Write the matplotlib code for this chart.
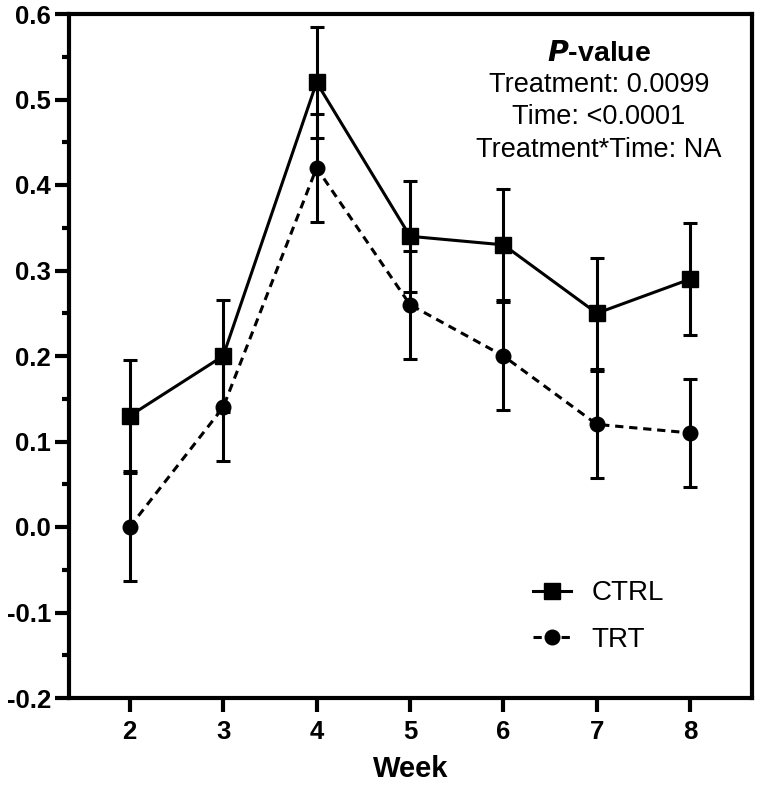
import matplotlib
matplotlib.use("Agg")
import matplotlib.pyplot as plt
import numpy as np

weeks = [2, 3, 4, 5, 6, 7, 8]
ctrl_mean = [0.13, 0.20, 0.52, 0.34, 0.33, 0.25, 0.29]
ctrl_err = [0.065, 0.065, 0.065, 0.065, 0.065, 0.065, 0.065]
trt_mean = [0.00, 0.14, 0.42, 0.26, 0.20, 0.12, 0.11]
trt_err = [0.063, 0.063, 0.063, 0.063, 0.063, 0.063, 0.063]
yticks = [-0.2, -0.1, 0.0, 0.1, 0.2, 0.3, 0.4, 0.5, 0.6]
stat_lines = ['Treatment: 0.0099', 'Time: <0.0001', 'Treatment*Time: NA']

plt.rcParams['font.family'] = ['Liberation Sans', 'DejaVu Sans']

fig = plt.figure(figsize=(7.6, 7.88), dpi=100)
ax = fig.add_axes([69/760, 1-698/788, 683/760, 684/788])

lw = 2.2
ax.errorbar(weeks, ctrl_mean, yerr=ctrl_err, fmt='none', ecolor='black',
            elinewidth=lw, capsize=5, capthick=lw, zorder=2)
ax.errorbar(weeks, trt_mean, yerr=trt_err, fmt='none', ecolor='black',
            elinewidth=lw, capsize=5, capthick=lw, zorder=2)
l1, = ax.plot(weeks, ctrl_mean, color='black', lw=lw, marker='s', markersize=11,
              label='CTRL', zorder=3)
l2, = ax.plot(weeks, trt_mean, color='black', lw=lw, ls=(0, (2.7, 1.9)), marker='o',
              markersize=10.5, label='TRT', zorder=3)

ax.set_xlim(1.35, 8.66)
ax.set_ylim(-0.2, 0.6)
ax.set_xticks(weeks)
ax.set_xticklabels([str(w) for w in weeks])
ax.set_yticks(yticks)
ax.set_yticklabels([f"{v:.1f}" for v in yticks])
ax.set_yticks(np.arange(-0.15, 0.6, 0.1), minor=True)

for s in ax.spines.values():
    s.set_linewidth(3)
ax.tick_params(axis='both', which='major', direction='out', length=10, width=3,
               labelsize=18.5, pad=3)
ax.tick_params(axis='y', which='minor', direction='out', length=5, width=3)
for lab in ax.get_xticklabels() + ax.get_yticklabels():
    lab.set_fontweight('bold')
ax.tick_params(axis='x', pad=6)

ax.set_xlabel('Week', fontsize=21, fontweight='bold', labelpad=8)

cx = 0.776
ax.text(cx, 0.942, r'$\bfit{P}$' + '-value', transform=ax.transAxes, ha='center', va='center',
        fontsize=20.5, fontweight='bold')
for yy, s in zip([0.896, 0.849, 0.801], stat_lines):
    ax.text(cx, yy, s, transform=ax.transAxes, ha='center', va='center', fontsize=19.5)

leg = ax.legend(handles=[l1, l2], loc='upper left', bbox_to_anchor=(0.68, 0.172),
                frameon=False, fontsize=20, handlelength=1.35, handletextpad=0.75,
                labelspacing=0.75, borderpad=0, borderaxespad=0)

fig.savefig('out.png', dpi=100)
